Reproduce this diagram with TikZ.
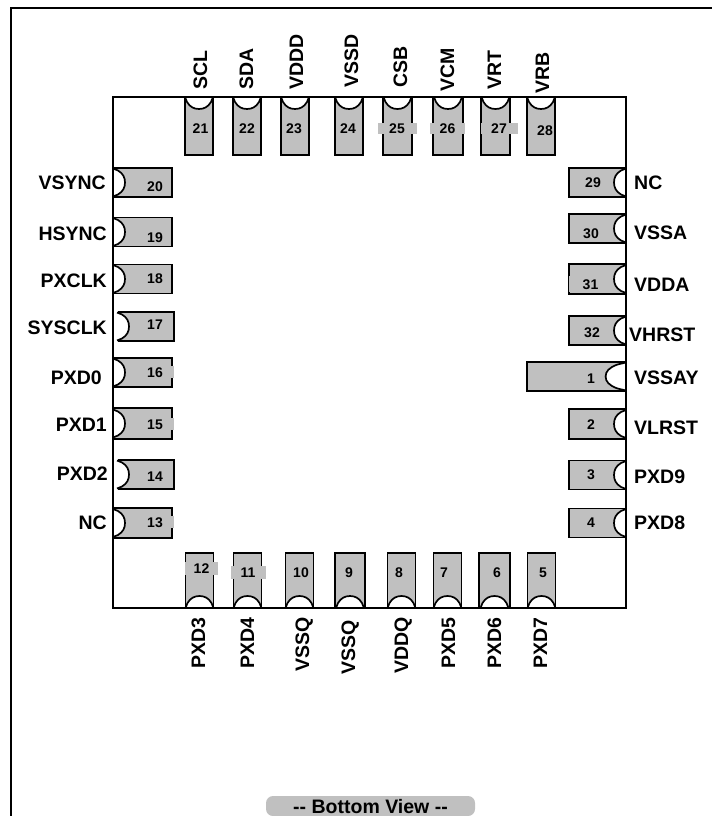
\documentclass[tikz,border=0pt]{standalone}
\usepackage{fontspec}
\setmainfont{Liberation Sans}
\definecolor{pingray}{HTML}{C0C0C0}
\begin{document}
\begin{tikzpicture}[x=1pt,y=-1pt,
	vpin/.style={draw,fill=pingray,line width=1.9pt,inner sep=0,outer sep=0,minimum width=28,minimum height=58},
	hpin/.style={draw,fill=pingray,line width=1.9pt,inner sep=0,outer sep=0,minimum width=59,minimum height=29},
	pingap/.style={fill=white,inner sep=0,outer sep=0,minimum width=5,minimum height=33},
	num/.style={font=\fontsize{14}{16}\bfseries,inner sep=0,text height=10pt,text depth=0pt},
	bump/.style={num,fill=pingray},
	lab/.style={font=\fontsize{19.5}{22}\bfseries,inner sep=0,text height=14pt,text depth=0pt},
	toplab/.style={lab,rotate=90,anchor=west},
	botlab/.style={lab,rotate=90,anchor=east},
	leftlab/.style={lab,anchor=east},
	rightlab/.style={lab,anchor=west},
	notch/.pic={\draw[fill=white,line width=1.7pt] (-14,0) -- (-12,5) .. controls (-9,10) and (-5,12) .. (0,12) .. controls (5,12) and (9,10) .. (12,5) -- (14,0);}]
	\useasboundingbox (0,0) rectangle (712,816);
	\draw[line width=2pt] (10.5,816) -- (10.5,8.5) -- (712,8.5);

	\node[vpin] (pin21) at (199,126) {}; \pic at (pin21.north) {notch}; \node[num] (num21) at (200.5,128) {21}; \node[toplab] (lab21) at (200,90) {SCL};
	\node[vpin] (pin22) at (247,126) {}; \pic at (pin22.north) {notch}; \node[num] (num22) at (247,128) {22}; \node[toplab] (lab22) at (246,90) {SDA};
	\node[vpin] (pin23) at (295,126) {}; \pic at (pin23.north) {notch}; \node[num] (num23) at (294,128) {23}; \node[toplab] (lab23) at (296,90) {VDDD};
	\node[vpin] (pin24) at (349,126) {}; \pic at (pin24.north) {notch}; \node[num] (num24) at (348,128) {24}; \node[toplab] (lab24) at (351,88) {VSSD};
	\node[vpin,minimum width=29] (pin25) at (397.5,126) {}; \pic at (pin25.north) {notch}; \node[bump,minimum width=39,minimum height=11] (num25) at (397,128) {25}; \node[toplab] (lab25) at (400,88) {CSB};
	\node[vpin,minimum width=30] (pin26) at (448,126) {}; \pic at (pin26.north) {notch}; \node[bump,minimum width=35,minimum height=11] (num26) at (447.5,128) {26}; \node[toplab] (lab26) at (447,92) {VCM};
	\node[vpin,minimum width=29] (pin27) at (495.5,126) {}; \pic at (pin27.north) {notch}; \node[bump,minimum width=37,minimum height=11] (num27) at (499,128) {27}; \node[toplab] (lab27) at (494,90) {VRT};
	\node[vpin] (pin28) at (541,126) {}; \pic at (pin28.north) {notch}; \node[num] (num28) at (545,130) {28}; \node[toplab] (lab28) at (542,94) {VRB};

	\node[hpin] (pin20) at (142.5,182.5) {}; \pic[rotate=90] at (pin20.west) {notch}; \node[num] (num20) at (155,186) {20}; \node[leftlab] (lab20) at (106,182) {VSYNC};
	\node[hpin] (pin19) at (142.5,232) {}; \pic[rotate=90] at (pin19.west) {notch}; \node[num] (num19) at (155,237) {19}; \node[leftlab] (lab19) at (107,233) {HSYNC};
	\node[hpin] (pin18) at (142.5,279) {}; \pic[rotate=90] at (pin18.west) {notch}; \node[num] (num18) at (155,278) {18}; \node[leftlab] (lab18) at (107,280) {PXCLK};
	\node[hpin,minimum width=61] (pin17) at (143.5,326.5) {}; \node[pingap] (gap17) at (115,326.5) {}; \pic[rotate=90] at (117,326.5) {notch}; \node[num] (num17) at (155,324) {17}; \node[leftlab] (lab17) at (107,327) {SYSCLK};
	\node[hpin] (pin16) at (142.5,372.5) {}; \pic[rotate=90] at (pin16.west) {notch}; \node[bump,minimum width=38,minimum height=12] (num16) at (155,372) {16}; \node[leftlab] (lab16) at (102,377) {PXD0};
	\node[hpin,minimum height=31] (pin15) at (142.5,423.5) {}; \pic[rotate=90] at (pin15.west) {notch}; \node[bump,minimum width=38,minimum height=12] (num15) at (155,424) {15}; \node[leftlab] (lab15) at (107,424) {PXD1};
	\node[hpin,minimum width=61] (pin14) at (143.5,474.5) {}; \node[pingap] (gap14) at (115,474.5) {}; \pic[rotate=90] at (117,474.5) {notch}; \node[num] (num14) at (155,476) {14}; \node[leftlab] (lab14) at (108,473) {PXD2};
	\node[hpin,minimum height=30] (pin13) at (142.5,523) {}; \pic[rotate=90] at (pin13.west) {notch}; \node[bump,minimum width=38,minimum height=12] (num13) at (155,522) {13}; \node[leftlab] (lab13) at (107,522) {NC};

	\node[vpin,minimum height=55] (pin12) at (199.5,580.5) {}; \pic[rotate=180] at (pin12.south) {notch}; \node[bump,minimum width=33,minimum height=13] (num12) at (201.5,568.5) {12}; \node[botlab] (lab12) at (198,617) {PXD3};
	\node[vpin,minimum height=55] (pin11) at (247.5,580.5) {}; \pic[rotate=180] at (pin11.south) {notch}; \node[bump,minimum width=35,minimum height=13] (num11) at (248,572) {11}; \node[botlab] (lab11) at (247,617) {PXD4};
	\node[vpin,minimum height=55] (pin10) at (299.5,580.5) {}; \pic[rotate=180] at (pin10.south) {notch}; \node[num] (num10) at (301,572) {10}; \node[botlab] (lab10) at (302,617) {VSSQ};
	\node[vpin,minimum height=55,minimum width=30] (pin9) at (350,580.5) {}; \pic[rotate=180] at (pin9.south) {notch}; \node[num] (num9) at (349,572) {9}; \node[botlab] (lab9) at (348,620) {VSSQ};
	\node[vpin,minimum height=55] (pin8) at (401.5,580.5) {}; \pic[rotate=180] at (pin8.south) {notch}; \node[num] (num8) at (399,572) {8}; \node[botlab] (lab8) at (401,617) {VDDQ};
	\node[vpin,minimum height=55] (pin7) at (447.5,580.5) {}; \pic[rotate=180] at (pin7.south) {notch}; \node[num] (num7) at (444,572) {7}; \node[botlab] (lab7) at (448,617) {PXD5};
	\node[vpin,minimum height=55,minimum width=31] (pin6) at (494.5,580.5) {}; \pic[rotate=180] at (pin6.south) {notch}; \node[num] (num6) at (497,572) {6}; \node[botlab] (lab6) at (494,617) {PXD6};
	\node[vpin,minimum height=55] (pin5) at (541.5,580.5) {}; \pic[rotate=180] at (pin5.south) {notch}; \node[num] (num5) at (543,572) {5}; \node[botlab] (lab5) at (540,617) {PXD7};

	\node[hpin,minimum width=57] (pin4) at (597.5,523) {}; \pic[rotate=-90] at (pin4.east) {notch}; \node[num] (num4) at (591,522) {4}; \node[rightlab] (lab4) at (634,522) {PXD8};
	\node[hpin,minimum width=57] (pin3) at (597.5,475) {}; \pic[rotate=-90] at (pin3.east) {notch}; \node[num] (num3) at (591,474) {3}; \node[rightlab] (lab3) at (634,476) {PXD9};
	\node[hpin,minimum width=57,minimum height=30] (pin2) at (597.5,424) {}; \pic[rotate=-90] at (pin2.east) {notch}; \node[num] (num2) at (591,424) {2}; \node[rightlab] (lab2) at (634,427) {VLRST};
	\node[hpin,minimum width=99] (pin1) at (576.5,376.5) {}; \pic[rotate=-90,yscale=1.7] at (pin1.east) {notch}; \node[num] (num1) at (591,378) {1}; \node[rightlab] (lab1) at (634,377) {VSSAY};
	\node[hpin,minimum width=57] (pin32) at (597.5,330.5) {}; \pic[rotate=-90] at (pin32.east) {notch}; \node[num] (num32) at (592,332) {32}; \node[rightlab] (lab32) at (629,334) {VHRST};
	\node[hpin,minimum width=57,minimum height=30] (pin31) at (597.5,279) {}; \pic[rotate=-90] at (pin31.east) {notch}; \node[bump,minimum width=44,minimum height=16] (num31) at (590.5,284) {31}; \node[rightlab] (lab31) at (634,284) {VDDA};
	\node[hpin,minimum width=57] (pin30) at (597.5,228.5) {}; \pic[rotate=-90] at (pin30.east) {notch}; \node[num] (num30) at (591,233) {30}; \node[rightlab] (lab30) at (634,232) {VSSA};
	\node[hpin,minimum width=57] (pin29) at (597.5,182.5) {}; \pic[rotate=-90] at (pin29.east) {notch}; \node[num] (num29) at (593,182) {29}; \node[rightlab] (lab29) at (634,182) {NC};

	\draw[line width=2pt] (113,97) rectangle (626,608);

	\node[lab,fill=pingray,rounded corners=7pt,minimum width=209,minimum height=20] (view) at (370.5,806) {-{}- Bottom View -{}-};
\end{tikzpicture}
\end{document}
